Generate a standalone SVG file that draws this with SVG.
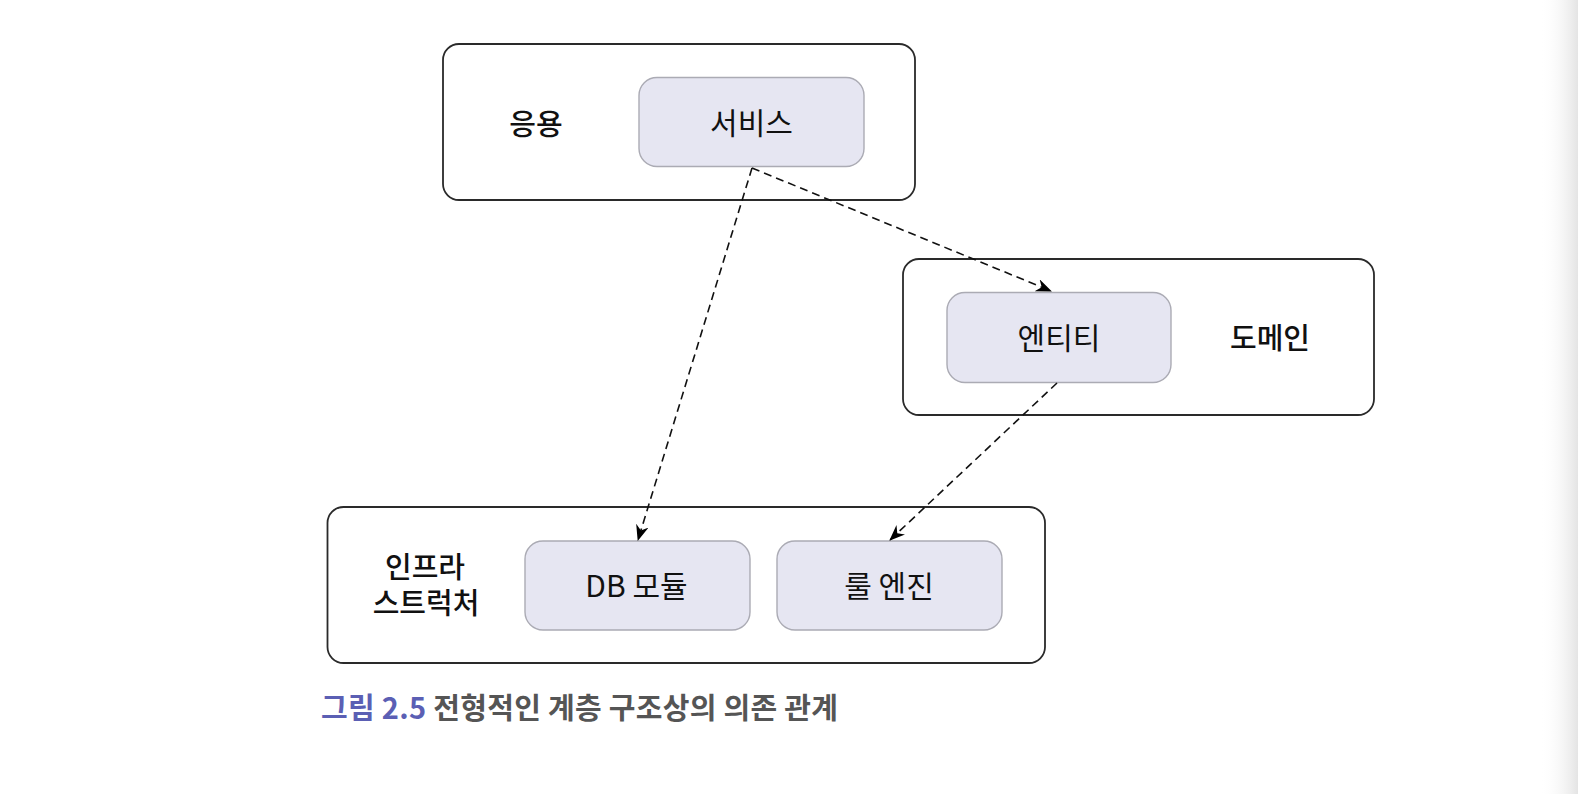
<svg xmlns="http://www.w3.org/2000/svg" width="1578" height="794" viewBox="0 0 1578 794">
<defs>
<linearGradient id="edge" x1="0" y1="0" x2="1" y2="0">
<stop offset="0" stop-color="#ffffff" stop-opacity="0"/>
<stop offset="1" stop-color="#e4e4e4"/>
</linearGradient>
<marker id="arr" viewBox="0 0 16 13" refX="15" refY="6.5" markerWidth="16" markerHeight="13" markerUnits="userSpaceOnUse" orient="auto">
<path d="M0,0 L16,6.5 L0,13 L5,6.5 Z" fill="#000"/>
</marker>
<style>
.outer{fill:#fff;stroke:#2a2a2a;stroke-width:1.8}
.inner{fill:#e6e6f2;stroke:#ababb4;stroke-width:1.4}
.lbl{font-family:"Noto Sans CJK KR","Noto Sans",sans-serif;font-size:30px;fill:#111;text-anchor:middle;dominant-baseline:central}
.grp{font-size:29px;font-weight:500}
.con{fill:none;stroke:#111;stroke-width:1.6;stroke-dasharray:8 5;marker-end:url(#arr)}
.cap{font-family:"Noto Sans CJK KR","Noto Sans",sans-serif;font-size:29px;font-weight:700;dominant-baseline:central}
</style>
</defs>
<rect width="1578" height="794" fill="#fff"/>
<rect x="1540" y="0" width="38" height="794" fill="url(#edge)"/>
<g id="app">
<rect class="outer" x="443" y="44" width="472" height="156" rx="16"/>
<text class="lbl grp" x="536" y="122">응용</text>
</g>
<g id="service">
<rect class="inner" x="639" y="77.5" width="225" height="89" rx="18"/>
<text class="lbl" x="751.5" y="121">서비스</text>
</g>
<g id="domain">
<rect class="outer" x="903" y="259" width="471" height="156" rx="16"/>
<text class="lbl grp" x="1270" y="336">도메인</text>
</g>
<g id="entity">
<rect class="inner" x="947" y="292.5" width="224" height="90" rx="18"/>
<text class="lbl" x="1059" y="336">엔티티</text>
</g>
<g id="infra">
<rect class="outer" x="327.5" y="507" width="717.5" height="156" rx="16"/>
<text class="lbl grp" x="425" y="565"><tspan x="425" y="565">인프라</tspan><tspan x="426" y="601">스트럭처</tspan></text>
</g>
<g id="dbmodule">
<rect class="inner" x="525" y="541" width="225" height="89" rx="18"/>
<text class="lbl" x="636.5" y="584">DB 모듈</text>
</g>
<g id="ruleengine">
<rect class="inner" x="777" y="541" width="225" height="89" rx="18"/>
<text class="lbl" x="889" y="584">룰 엔진</text>
</g>
<g id="connectors">
<path class="con" d="M752,168 L638,540"/>
<path class="con" d="M752,168 L1051,291"/>
<path class="con" d="M1057,383 L890,540"/>
</g>
<g id="caption">
<text class="cap" x="321" y="706" textLength="517" lengthAdjust="spacing"><tspan fill="#5b5fb4">그림 2.5</tspan><tspan fill="#555"> 전형적인 계층 구조상의 의존 관계</tspan></text>
</g>
</svg>
